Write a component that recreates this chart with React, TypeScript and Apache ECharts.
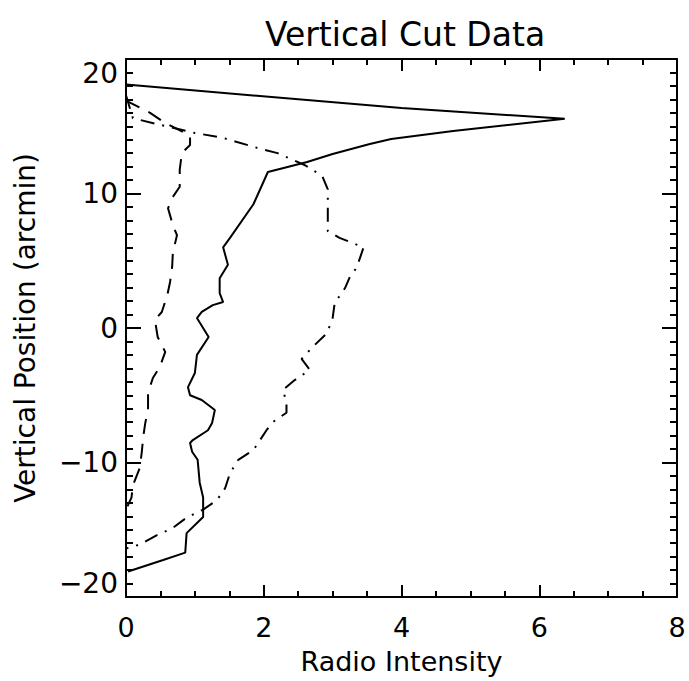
import React, { useEffect, useRef } from "react";
import * as echarts from "echarts";

// Solid curve (x = radio intensity, y = vertical position in arcmin)
const solidX = [0, 4.0, 6.37, 4.75, 3.85, 3.54, 3.0, 2.63, 2.06, 1.85, 1.51, 1.41, 1.48, 1.36, 1.36, 1.41, 1.26, 1.1, 1.03, 1.2, 1.03, 1.0, 0.9, 0.93, 1.1, 1.29, 1.25, 1.19, 0.97, 0.93, 0.96, 1.04, 1.07, 1.12, 1.12, 0.88, 0.86, 0.54, 0.03];
const solidY = [18.1, 16.35, 15.55, 14.65, 14.05, 13.68, 12.94, 12.34, 11.6, 9.2, 6.7, 6.0, 4.7, 3.7, 2.6, 1.93, 1.7, 1.2, 0.74, -0.67, -2.0, -3.35, -4.4, -5.0, -5.35, -6.1, -7.06, -7.6, -8.33, -8.55, -9.2, -9.8, -11.5, -12.6, -14.05, -15.25, -16.7, -17.25, -18.1];

// Dashed curve
const dashedX = [0, 0.35, 0.55, 0.93, 0.93, 0.81, 0.78, 0.78, 0.67, 0.61, 0.68, 0.74, 0.68, 0.67, 0.64, 0.6, 0.52, 0.42, 0.46, 0.57, 0.49, 0.39, 0.32, 0.32, 0.28, 0.25, 0.23, 0.2, 0.1, 0.08, 0.0];
const dashedY = [16.9, 16.0, 15.3, 14.3, 13.6, 13.0, 11.75, 10.5, 9.67, 8.9, 7.66, 6.9, 5.58, 4.54, 3.42, 2.45, 1.19, 0.6, -0.67, -1.78, -2.9, -3.72, -4.83, -6.1, -7.06, -8.1, -9.2, -10.4, -11.7, -12.6, -13.5];

// Dash-dot curve
const dashDotX = [0, 0.1, 0.5, 1.0, 1.4, 1.9, 2.2, 2.6, 2.85, 2.93, 2.93, 3.1, 3.45, 3.35, 3.25, 3.18, 3.03, 3.0, 2.92, 2.71, 2.55, 2.67, 2.45, 2.28, 2.33, 2.33, 2.13, 2.04, 1.95, 1.85, 1.63, 1.51, 1.44, 1.32, 1.12, 0.88, 0.67, 0.45, 0.2, 0];
const dashDotY = [17.3, 15.6, 15.1, 14.5, 14.15, 13.4, 13.0, 12.1, 11.3, 10.3, 7.2, 6.7, 6.0, 4.5, 3.8, 2.97, 1.86, 0.74, -0.37, -1.41, -2.3, -3.12, -3.87, -4.6, -5.58, -6.3, -7.0, -7.6, -8.3, -9.07, -9.8, -10.8, -11.9, -12.8, -13.5, -14.1, -14.9, -15.4, -16.1, -16.4];

const xTickLabels = ["0", "2", "4", "6", "8"];
const yTickLabels = ["-20", "-10", "0", "10", "20"];

const FONT = "DejaVu Sans";

function pairs(xs: number[], ys: number[]) {
  return xs.map((x, i) => [x, ys[i]]);
}

export default function App() {
  const ref = useRef<HTMLDivElement>(null);
  useEffect(() => {
    if (!ref.current) return;
    const chart = echarts.init(ref.current, undefined, { renderer: "svg" });
    const axisLine = { show: true, onZero: false, lineStyle: { color: "#000", width: 2 } };
    const xBase = {
      type: "value" as const,
      min: 0,
      max: 8,
      interval: 2,
      axisLine,
      splitLine: { show: false },
      axisTick: { show: true, inside: true, length: 12, lineStyle: { color: "#000", width: 2 } },
      minorTick: { show: true, splitNumber: 4, length: 6, lineStyle: { color: "#000", width: 2 } },
    };
    const yBase = {
      type: "value" as const,
      min: -20,
      max: 20,
      interval: 10,
      axisLine,
      splitLine: { show: false },
      axisTick: { show: true, inside: true, length: 15, lineStyle: { color: "#000", width: 2 } },
      minorTick: { show: true, splitNumber: 10, length: 7, lineStyle: { color: "#000", width: 2 } },
    };
    chart.setOption({
      animation: false,
      backgroundColor: "#fff",
      title: {
        text: "Vertical Cut Data",
        left: 400,
        top: 13,
        textAlign: "center",
        textStyle: { fontFamily: FONT, fontSize: 33, fontWeight: "normal", color: "#000" },
      },
      grid: { left: 126, right: 12, top: 59, bottom: 84 },
      xAxis: [
        {
          ...xBase,
          position: "bottom",
          name: "Radio Intensity",
          nameLocation: "middle",
          nameGap: 51,
          nameTextStyle: { fontFamily: FONT, fontSize: 27, color: "#000" },
          axisLabel: {
            margin: 17,
            fontFamily: FONT,
            fontSize: 27,
            color: "#000",
            formatter: (v: number) => xTickLabels[Math.round(v / 2)] ?? "",
          },
        },
        { ...xBase, position: "top", axisLabel: { show: false } },
      ],
      yAxis: [
        {
          ...yBase,
          position: "left",
          name: "Vertical Position (arcmin)",
          nameLocation: "middle",
          nameGap: 87,
          nameTextStyle: { fontFamily: FONT, fontSize: 28, color: "#000" },
          axisLabel: {
            margin: 8,
            fontFamily: FONT,
            fontSize: 28,
            color: "#000",
            verticalAlignMaxLabel: "top",
            verticalAlignMinLabel: "bottom",
            formatter: (v: number) => {
              const l = yTickLabels[Math.round((v + 20) / 10)] ?? "";
              return l.replace("-", "\u2212");
            },
          },
        },
        { ...yBase, position: "right", axisLabel: { show: false } },
      ],
      series: [
        {
          type: "line",
          data: pairs(solidX, solidY),
          showSymbol: false,
          lineStyle: { color: "#000", width: 2, type: "solid" },
        },
        {
          type: "line",
          data: pairs(dashedX, dashedY),
          showSymbol: false,
          lineStyle: { color: "#000", width: 2, type: [15, 10] },
        },
        {
          type: "line",
          data: pairs(dashDotX, dashDotY),
          showSymbol: false,
          lineStyle: { color: "#000", width: 2, type: [14, 8, 2, 8] },
        },
      ],
    });
    return () => chart.dispose();
  }, []);
  return (
    <div
      ref={ref}
      style={{ position: "fixed", left: 0, top: 0, width: 689, height: 681, background: "#fff" }}
    />
  );
}
